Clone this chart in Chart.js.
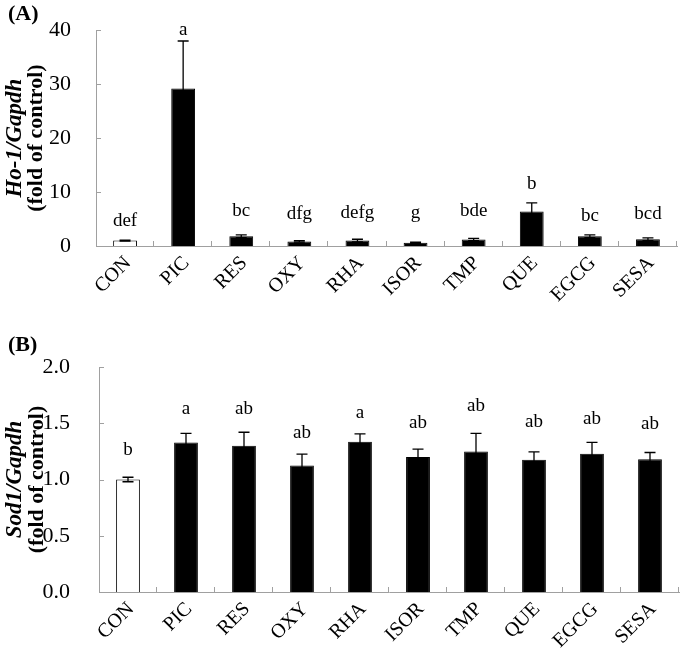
<!DOCTYPE html>
<html>
<head>
<meta charset="utf-8">
<script src="https://cdn.jsdelivr.net/npm/chart.js@4"></script>
<style>
  body { margin: 0; background: #fff; }
  #wrap { position: relative; width: 680px; height: 655px; }
  #panelA { position: absolute; left: 0; top: 0; }
  #panelB { position: absolute; left: 0; top: 320px; }
</style>
</head>
<body>
<div id="wrap">
  <canvas id="panelA" width="680" height="320"></canvas>
  <canvas id="panelB" width="680" height="335"></canvas>
</div>
<script>
// ---- data ----
const categories = ['CON', 'PIC', 'RES', 'OXY', 'RHA', 'ISOR', 'TMP', 'QUE', 'EGCG', 'SESA'];

const ho1Values  = [1.0, 29.2, 1.8, 0.85, 1.0, 0.6, 1.2, 6.4, 1.8, 1.25];
const ho1Errors  = [0.1, 8.8, 0.25, 0.15, 0.25, 0.12, 0.2, 1.6, 0.25, 0.25];
const ho1Letters = ['def', 'a', 'bc', 'dfg', 'defg', 'g', 'bde', 'b', 'bc', 'bcd'];
const ho1LetterY = [4.7, 40.0, 6.5, 5.95, 6.1, 6.1, 6.5, 11.4, 5.6, 5.9];
const ho1Ticks   = [0, 10, 20, 30, 40];

const sod1Values  = [1.0, 1.33, 1.30, 1.125, 1.335, 1.20, 1.25, 1.175, 1.23, 1.18];
const sod1Errors  = [0.02, 0.08, 0.12, 0.10, 0.07, 0.07, 0.16, 0.07, 0.10, 0.06];
const sod1Letters = ['b', 'a', 'ab', 'ab', 'a', 'ab', 'ab', 'ab', 'ab', 'ab'];
const sod1LetterY = [1.26, 1.63, 1.63, 1.41, 1.59, 1.50, 1.65, 1.51, 1.54, 1.49];
const sod1Ticks   = [0, 0.5, 1.0, 1.5, 2.0];

const FONT = "'Liberation Serif', 'Times New Roman', serif";
const AXIS_GREY = '#a0a0a0';

// ---- plugin: error bars, letters, inward ticks, slanted labels, titles ----
const decorPlugin = {
  id: 'decor',
  afterDatasetsDraw(chart, args, opts) {
    const ctx = chart.ctx;
    const ys = chart.scales.y;
    const area = chart.chartArea;
    const meta = chart.getDatasetMeta(0);

    ctx.save();
    // error bars
    ctx.strokeStyle = '#000';
    ctx.lineWidth = 1.3;
    meta.data.forEach((bar, i) => {
      const v = opts.values[i], e = opts.errors[i];
      const x = bar.x;
      const yTop = ys.getPixelForValue(v + e);
      const yBot = ys.getPixelForValue(v - e);
      ctx.beginPath();
      ctx.moveTo(x, yBot); ctx.lineTo(x, yTop);
      ctx.moveTo(x - 5.5, yTop); ctx.lineTo(x + 5.5, yTop);
      ctx.moveTo(x - 5.5, yBot); ctx.lineTo(x + 5.5, yBot);
      ctx.stroke();
    });

    // significance letters
    ctx.fillStyle = '#000';
    ctx.font = '19px ' + FONT;
    ctx.textAlign = 'center';
    ctx.textBaseline = 'middle';
    meta.data.forEach((bar, i) => {
      ctx.fillText(opts.letters[i], bar.x, ys.getPixelForValue(opts.letterY[i]));
    });

    // inward tick marks
    ctx.strokeStyle = AXIS_GREY;
    ctx.lineWidth = 1;
    ctx.beginPath();
    opts.ticks.forEach(t => {
      const y = Math.round(ys.getPixelForValue(t)) + 0.5;
      ctx.moveTo(area.left, y); ctx.lineTo(area.left + 5, y);
    });
    const step = (area.right - area.left) / categories.length;
    for (let i = 1; i <= categories.length; i++) {
      const x = Math.round(area.left + i * step) - 0.5;
      ctx.moveTo(x, area.bottom); ctx.lineTo(x, area.bottom - 5);
    }
    ctx.stroke();

    // category labels at 45 degrees
    ctx.font = '20px ' + FONT;
    ctx.textAlign = 'right';
    ctx.textBaseline = 'middle';
    meta.data.forEach((bar, i) => {
      ctx.save();
      ctx.translate(bar.x + 3, area.bottom + 14);
      ctx.rotate(-Math.PI / 4);
      ctx.fillText(categories[i], 0, 0);
      ctx.restore();
    });

    // panel label
    ctx.font = 'bold 22px ' + FONT;
    ctx.textAlign = 'left';
    ctx.fillText(opts.panel, 8, opts.panelY);

    // y title (two lines, rotated)
    const cy = (area.top + area.bottom) / 2;
    ctx.translate(0, cy);
    ctx.rotate(-Math.PI / 2);
    ctx.textAlign = 'center';
    ctx.font = 'italic bold 23px ' + FONT;
    ctx.fillText(opts.gene, 0, 15);
    ctx.font = 'bold 22px ' + FONT;
    ctx.fillText('(fold of control)', 0, opts.line2X);
    ctx.restore();
  }
};

function makeChart(id, values, cfg) {
  return new Chart(document.getElementById(id), {
    type: 'bar',
    data: {
      labels: categories,
      datasets: [{
        data: values,
        backgroundColor: categories.map((c, i) => i === 0 ? '#ffffff' : '#000000'),
        borderColor: '#000',
        borderWidth: 1,
        barPercentage: 0.41,
        categoryPercentage: 1.0
      }]
    },
    options: {
      responsive: false,
      animation: false,
      devicePixelRatio: 1,
      layout: { padding: { left: 0, top: cfg.top, right: cfg.right, bottom: 0 } },
      plugins: {
        legend: { display: false },
        tooltip: { enabled: false },
        decor: cfg.decor
      },
      scales: {
        x: {
          grid: { display: false },
          border: { display: true, color: AXIS_GREY, width: 1 },
          ticks: { display: false },
          afterFit(scale) { scale.height = cfg.xHeight; }
        },
        y: {
          min: cfg.min, max: cfg.max,
          grid: { display: false },
          border: { display: true, color: AXIS_GREY, width: 1 },
          ticks: {
            color: '#000',
            font: { family: FONT, size: 22 },
            stepSize: cfg.step,
            padding: cfg.tickPad,
            callback: cfg.fmt
          },
          afterFit(scale) { scale.width = cfg.yWidth; }
        }
      }
    },
    plugins: [decorPlugin]
  });
}

makeChart('panelA', ho1Values, {
  top: 24, right: 3, xHeight: 74, yWidth: 96, tickPad: 17,
  min: 0, max: 40, step: 10,
  fmt: v => v,
  decor: {
    values: ho1Values, errors: ho1Errors, letters: ho1Letters, letterY: ho1LetterY,
    ticks: ho1Ticks, panel: '(A)', panelY: 14, gene: 'Ho-1/Gapdh', line2X: 36
  }
});

makeChart('panelB', sod1Values, {
  top: 47, right: 1, xHeight: 63, yWidth: 99, tickPad: 21,
  min: 0, max: 2, step: 0.5,
  fmt: v => v.toFixed(1),
  decor: {
    values: sod1Values, errors: sod1Errors, letters: sod1Letters, letterY: sod1LetterY,
    ticks: sod1Ticks, panel: '(B)', panelY: 25, gene: 'Sod1/Gapdh', line2X: 37
  }
});
</script>
</body>
</html>
